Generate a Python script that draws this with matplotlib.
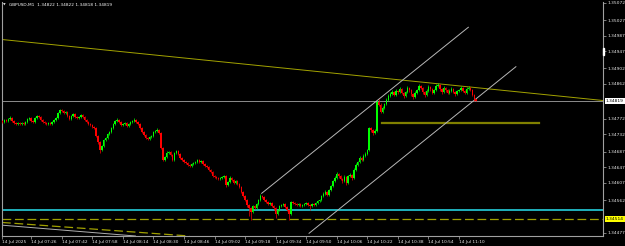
import matplotlib
matplotlib.use('Agg')
import matplotlib.pyplot as plt
from matplotlib.patches import Rectangle

# GBPUSD M1, prices stored in points above 1.34000 (1 point = 0.00001)
symbol = 'GBPUSD,M1'
base = 1.34
pt = 0.00001

first_open = 766
closes_pts = [
    764, 769, 766, 772, 774, 766, 761, 759, 761, 759,
    761, 759, 764, 772, 774, 766, 764, 774, 779, 777,
    769, 764, 761, 759, 761, 759, 764, 769, 774, 787,
    795, 792, 787, 790, 779, 772, 779, 784, 777, 774,
    777, 782, 777, 769, 764, 759, 756, 751, 748, 728,
    712, 691, 702, 717, 722, 733, 738, 748, 759, 766,
    769, 764, 756, 759, 761, 753, 759, 764, 766, 769,
    764, 759, 748, 738, 730, 722, 720, 725, 728, 738,
    741, 743, 735, 697, 666, 673, 684, 686, 679, 666,
    684, 689, 681, 671, 666, 660, 658, 653, 650, 655,
    658, 660, 666, 660, 663, 655, 650, 648, 640, 635,
    624, 622, 619, 617, 619, 622, 624, 601, 609, 619,
    614, 606, 611, 604, 596, 583, 573, 562, 549, 541,
    531, 547, 541, 552, 562, 573, 570, 562, 557, 552,
    554, 547, 541, 526, 536, 547, 549, 552, 544, 536,
    526, 557, 554, 552, 549, 552, 547, 549, 552, 554,
    549, 547, 552, 549, 554, 560, 562, 573, 578, 583,
    575, 588, 598, 611, 619, 629, 624, 617, 611, 622,
    606, 624, 627, 619, 640, 653, 660, 671, 666, 676,
    681, 691, 748, 743, 735, 741, 815, 808, 790, 800,
    810, 821, 831, 836, 841, 834, 844, 841, 849, 839,
    831, 841, 852, 846, 836, 828, 839, 846, 857, 852,
    841, 834, 844, 854, 849, 839, 846, 857, 859, 849,
    841, 852, 846, 839, 844, 849, 841, 836, 844, 846,
    852, 844, 839, 849, 852, 846, 834, 822, 819,
]
highs_pts = [
    768, 771, 772, 775, 778, 776, 768, 763, 764, 763,
    763, 764, 766, 774, 777, 776, 769, 776, 782, 781,
    779, 771, 766, 763, 764, 763, 766, 772, 777, 790,
    798, 797, 794, 793, 792, 781, 782, 787, 786, 779,
    780, 785, 784, 779, 771, 766, 761, 758, 753, 750,
    730, 714, 705, 720, 726, 736, 741, 751, 762, 770,
    774, 771, 766, 762, 764, 763, 762, 767, 769, 773,
    771, 766, 761, 750, 740, 732, 725, 728, 731, 741,
    744, 747, 745, 737, 699, 676, 688, 690, 689, 681,
    687, 692, 691, 683, 673, 668, 662, 660, 655, 658,
    661, 663, 669, 668, 666, 665, 657, 652, 650, 642,
    637, 626, 624, 621, 622, 625, 627, 626, 612, 623,
    621, 616, 614, 613, 606, 598, 585, 575, 564, 551,
    543, 550, 549, 555, 566, 578, 576, 572, 564, 559,
    557, 556, 549, 543, 539, 550, 553, 555, 554, 546,
    538, 560, 559, 556, 554, 555, 554, 552, 555, 557,
    556, 551, 555, 554, 557, 563, 566, 576, 582, 587,
    585, 591, 602, 615, 623, 634, 631, 626, 619, 626,
    624, 628, 631, 629, 644, 657, 664, 675, 673, 680,
    685, 695, 752, 751, 745, 745, 820, 822, 812, 804,
    814, 825, 835, 840, 846, 844, 849, 847, 854, 852,
    841, 845, 858, 855, 848, 838, 843, 850, 862, 860,
    854, 843, 848, 859, 857, 851, 850, 861, 864, 861,
    851, 856, 855, 848, 848, 853, 851, 843, 847, 850,
    856, 854, 846, 853, 856, 854, 848, 836, 822,
]
lows_pts = [
    762, 762, 764, 765, 770, 763, 758, 756, 757, 757,
    756, 757, 757, 762, 770, 764, 761, 762, 772, 774,
    767, 762, 758, 756, 757, 756, 757, 762, 767, 772,
    785, 789, 784, 785, 776, 769, 770, 777, 775, 771,
    772, 775, 774, 767, 761, 756, 753, 748, 745, 725,
    708, 684, 688, 700, 714, 720, 730, 736, 746, 757,
    764, 761, 754, 754, 757, 750, 751, 757, 762, 764,
    762, 756, 745, 735, 727, 719, 717, 718, 723, 726,
    736, 739, 732, 694, 662, 663, 671, 681, 676, 663,
    664, 682, 678, 668, 663, 657, 655, 650, 647, 648,
    653, 656, 658, 657, 658, 652, 647, 645, 637, 632,
    621, 619, 616, 614, 615, 617, 620, 597, 599, 607,
    611, 603, 604, 601, 593, 580, 570, 559, 545, 520,
    510, 528, 538, 539, 550, 560, 567, 559, 554, 549,
    550, 544, 537, 515, 523, 534, 545, 547, 541, 533,
    510, 523, 551, 549, 546, 547, 544, 545, 547, 550,
    546, 537, 545, 546, 547, 552, 558, 560, 571, 576,
    572, 573, 586, 596, 609, 617, 620, 613, 607, 609,
    602, 604, 622, 615, 617, 638, 650, 657, 662, 664,
    673, 679, 689, 739, 731, 732, 739, 804, 786, 787,
    797, 808, 818, 828, 833, 830, 831, 837, 838, 835,
    826, 828, 838, 842, 832, 824, 825, 836, 843, 848,
    837, 828, 831, 841, 845, 835, 836, 843, 854, 845,
    837, 838, 842, 835, 836, 841, 838, 832, 833, 841,
    843, 840, 835, 836, 846, 843, 830, 819, 818,
]

time_labels = ['14 Jul 2025', '14 Jul 07:26', '14 Jul 07:42', '14 Jul 07:58',
               '14 Jul 08:14', '14 Jul 08:30', '14 Jul 08:46', '14 Jul 09:02',
               '14 Jul 09:18', '14 Jul 09:34', '14 Jul 09:50', '14 Jul 10:06',
               '14 Jul 10:22', '14 Jul 10:38', '14 Jul 10:54', '14 Jul 11:10']
time_label_bars = [0, 15, 31, 47, 63, 79, 95, 111, 127, 143, 159, 175, 191, 207, 223, 239]

price_ticks = [1.35072, 1.35027, 1.34987, 1.34947, 1.34902, 1.34862, 1.34772,
               1.34732, 1.34687, 1.34647, 1.34607, 1.34562, 1.34477]

bid_price = 1.34819
level_cyan = 1.34537
level_dashed = 1.34514
level_olive = 1.34762
olive_bars = [198.5, 280.9]
trend_yellow = [(-1.3, 1.349774), (314.4, 1.348193)]
channel_low = [(160.5, 1.344762), (268.8, 1.349066)]
channel_up = [(135.7, 1.345795), (243.9, 1.350085)]
grey_diag = [(-1.3, 1.344976), (63.1, 1.344718)]
dashed_diag = [(-1.3, 1.345046), (95.5, 1.344700)]

opens_pts = [first_open] + closes_pts[:-1]
bars = list(range(len(closes_pts)))
opens = [base + p * pt for p in opens_pts]
closes = [base + p * pt for p in closes_pts]
highs = [base + p * pt for p in highs_pts]
lows = [base + p * pt for p in lows_pts]

fig = plt.figure(figsize=(6.25, 2.46), dpi=100, facecolor='black')
ax = fig.add_axes([2 / 625, 10 / 246, 601 / 625, 234 / 246], facecolor='black')

# candles
cols = ['#00ff00' if c >= o else '#ff0000' for o, c in zip(opens, closes)]
ax.vlines(bars, lows, highs, colors=cols, lw=0.5, zorder=3)
bodies = [max(abs(c - o), 0.8 * pt) for o, c in zip(opens, closes)]
bottoms = [min(o, c) for o, c in zip(opens, closes)]
ax.bar(bars, bodies, bottom=bottoms, width=0.75, color=cols, lw=0, zorder=3)

# objects drawn on the chart
ax.axhline(bid_price, color='#8c8c8c', lw=0.7, zorder=2)
ax.axhline(level_cyan, color='#1fb0bc', lw=1.4, zorder=2)
ax.axhline(level_dashed, color='#a0a000', lw=0.9, dashes=(7, 3), zorder=2)
ax.plot(olive_bars, [level_olive, level_olive], color='#808000', lw=1.6, zorder=2)
for seg, col in [(trend_yellow, '#a3a300'), (channel_low, '#b8b8b8'), (channel_up, '#b8b8b8')]:
    ax.plot([seg[0][0], seg[1][0]], [seg[0][1], seg[1][1]], color=col, lw=0.7, zorder=2)
ax.axline(grey_diag[0], grey_diag[1], color='#b0b0b0', lw=0.7, zorder=2)
ax.axline(dashed_diag[0], dashed_diag[1], color='#a0a000', lw=0.9, dashes=(7, 3), zorder=2)

ax.set_xlim(-0.26, 314.4)
ax.set_ylim(1.344692, 1.350738)

for s in ['left', 'right', 'bottom']:
    ax.spines[s].set_color('#a0a0a0')
    ax.spines[s].set_linewidth(0.8)
ax.spines['top'].set_visible(False)

ax.yaxis.tick_right()
ax.set_yticks(price_ticks)
ax.set_yticklabels(['%.5f' % p for p in price_ticks])
ax.tick_params(axis='y', length=2, width=0.5, color='#b0b0b0', labelsize=3.2,
               labelcolor='#e8e8e8', pad=1)
ax.set_xticks(time_label_bars)
ax.set_xticklabels(time_labels)
ax.tick_params(axis='x', length=2, width=0.5, color='#b0b0b0', labelsize=3.1,
               labelcolor='#e8e8e8', pad=1)
for lbl in ax.get_xticklabels():
    lbl.set_horizontalalignment('left')

ytr = ax.get_yaxis_transform()
ax.text(1.005, bid_price, '%.5f' % bid_price, transform=ytr, fontsize=3.2, color='black',
        va='center', ha='left', clip_on=False,
        bbox=dict(boxstyle='square,pad=0.25', fc='white', ec='none'))
ax.text(1.005, level_dashed, '%.5f' % level_dashed, transform=ytr, fontsize=3.2, color='black',
        va='center', ha='left', clip_on=False,
        bbox=dict(boxstyle='square,pad=0.25', fc='#ffff00', ec='none'))

fig.patches.append(Rectangle((602.5 / 625, 1 - 54.5 / 246), 1.5 / 625, 6.5 / 246,
                             color='white', transform=fig.transFigure))
fig.text(3 / 625, 1 - 5 / 246, '\u25bc', fontsize=2.5, color='#e0e0e0', va='center')
fig.text(9 / 625, 1 - 5 / 246, symbol + '  1.34822 1.34822 1.34818 1.34819',
         fontsize=3.1, color='white', va='center')

fig.savefig('out.png', dpi=100, facecolor='black')
